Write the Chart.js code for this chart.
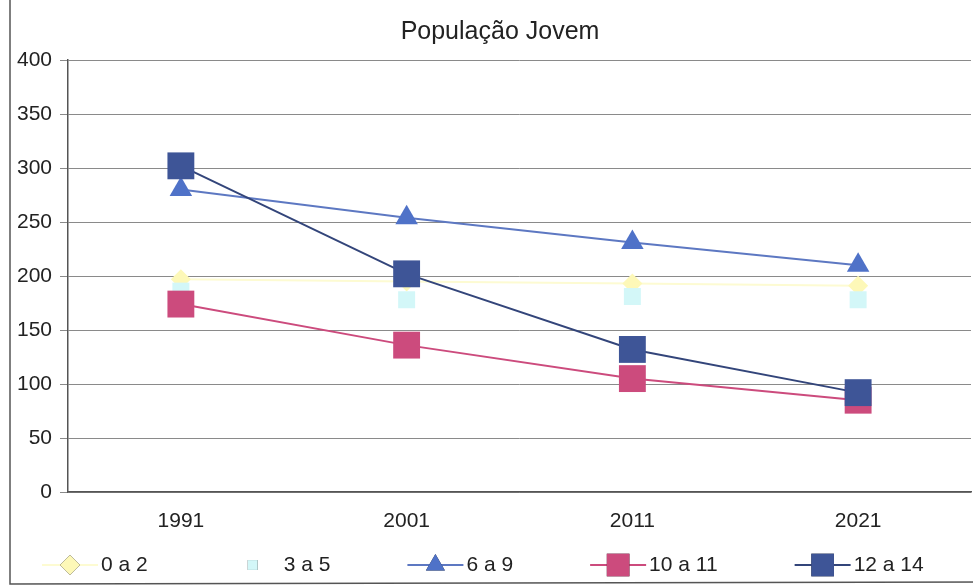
<!DOCTYPE html>
<html lang="pt">
<head>
    <meta charset="UTF-8">
    <title>População Jovem</title>
    <script src="https://cdn.jsdelivr.net/npm/chart.js"></script>
    <style>
        body {
            margin: 0;
            background: #fff;
            overflow: hidden;
        }
        canvas {
            display: block;
        }
    </style>
</head>
<body>

    <!-- a bit wider than the window: the scanned plot runs to the right edge -->
    <canvas id="popChart" width="990" height="587"></canvas>

    <script>
        // data
        const years = ['1991', '2001', '2011', '2021'];
        const idade0a2 = [197, 195, 193, 191];
        const idade3a5 = [186, 178, 181, 178];
        const idade6a9 = [280, 254, 231, 210];
        const idade10a11 = [174, 136, 105, 85];
        const idade12a14 = [302, 202, 132, 92];
        const yTicks = [0, 50, 100, 150, 200, 250, 300, 350, 400];

        const font = 'Arial, "Liberation Sans", sans-serif';

        // Excel-style legend: short line with the marker in the middle
        const excelLegend = {
            id: 'excelLegend',
            afterDraw(chart) {
                const ctx = chart.ctx;
                const y = 565;
                let x = 42;
                ctx.save();
                ctx.font = '21px ' + font;
                ctx.textBaseline = 'middle';
                chart.data.datasets.forEach(ds => {
                    ctx.strokeStyle = ds.borderColor;
                    ctx.lineWidth = 2;
                    ctx.beginPath();
                    ctx.moveTo(x, y);
                    ctx.lineTo(x + 56, y);
                    ctx.stroke();
                    Chart.helpers.drawPoint(ctx, {
                        pointStyle: ds.pointStyle,
                        radius: ds.legendRadius,
                        borderWidth: 0
                    }, x + 28, y);
                    ctx.fillStyle = ds.pointBackgroundColor;
                    ctx.fill();
                    ctx.fillStyle = '#222';
                    ctx.fillText(ds.label, x + 59, y);
                    x += 59 + ctx.measureText(ds.label).width + 77;
                });
                // frame of the chart object
                ctx.strokeStyle = '#555';
                ctx.lineWidth = 1.5;
                ctx.beginPath();
                ctx.moveTo(10, 0);
                ctx.lineTo(10, 584);
                ctx.lineTo(990, 582);
                ctx.stroke();
                ctx.restore();
            }
        };

        function serie(label, data, color, lineColor, style, radius, legendRadius, order) {
            return {
                label: label,
                data: data,
                borderColor: lineColor,
                borderWidth: 2,
                backgroundColor: color,
                pointBackgroundColor: color,
                pointBorderWidth: 0,
                pointStyle: style,
                pointRadius: radius,
                pointHoverRadius: radius,
                legendRadius: legendRadius,
                order: order, // later series on top, like Excel
                fill: false,
                tension: 0
            };
        }

        new Chart(document.getElementById('popChart').getContext('2d'), {
            type: 'line',
            data: {
                labels: years,
                datasets: [
                    serie('0 a 2', idade0a2, '#fdf8b8', '#fdfbd2', 'rectRot', 10, 10, 5),
                    serie('3 a 5', idade3a5, '#d3f7f8', 'rgba(220,248,248,0)', 'rect', 12, 7, 4),
                    serie('6 a 9', idade6a9, '#4f72c8', '#5d78c2', 'triangle', 13, 11, 3),
                    serie('10 a 11', idade10a11, '#cc4b7d', '#cc4b7d', 'rect', 19, 16, 2),
                    serie('12 a 14', idade12a14, '#3e5597', '#33457a', 'rect', 19, 16, 1)
                ]
            },
            options: {
                responsive: false,
                animation: false,
                layout: {
                    padding: { left: 10, right: 0, top: 0, bottom: 0 }
                },
                plugins: {
                    legend: { display: false },
                    tooltip: { enabled: false },
                    title: {
                        display: true,
                        text: 'População Jovem',
                        color: '#222',
                        font: { family: font, size: 25, weight: 'normal' },
                        padding: { top: 17, bottom: 13 }
                    }
                },
                scales: {
                    x: {
                        offset: true,
                        afterFit(scale) {
                            scale.height = 95;
                        },
                        grid: { display: false, drawTicks: false },
                        border: { color: '#555', width: 1.5 },
                        ticks: {
                            color: '#222',
                            padding: 17,
                            maxRotation: 0,
                            font: { family: font, size: 21 }
                        }
                    },
                    y: {
                        min: 0,
                        max: 400,
                        afterFit(scale) { scale.width = 58; },
                        afterBuildTicks(scale) {
                            scale.ticks = yTicks.map(v => ({ value: v }));
                        },
                        grid: {
                            color: '#8a8a8a',
                            lineWidth: 1,
                            tickLength: 8
                        },
                        border: { color: '#555', width: 1.5 },
                        ticks: {
                            color: '#222',
                            padding: 8,
                            font: { family: font, size: 21 }
                        }
                    }
                }
            },
            plugins: [excelLegend]
        });
    </script>

</body>
</html>
